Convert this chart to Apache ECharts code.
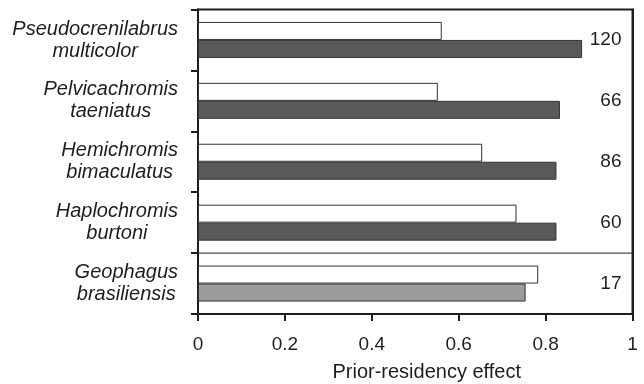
<!DOCTYPE html>
<html>
<head>
<meta charset="utf-8">
<script src="https://cdn.jsdelivr.net/npm/echarts@6/dist/echarts.min.js"></script>
<style>html,body{margin:0;padding:0;background:#fff;}#chart{width:644px;height:384px;}</style>
</head>
<body>
<div id="chart"></div>
<script>
// Data (top-to-bottom order)
const species = [
  'Pseudocrenilabrus multicolor',
  'Pelvicachromis taeniatus',
  'Hemichromis bimaculatus',
  'Haplochromis burtoni',
  'Geophagus brasiliensis'
];
const openBarValues = [0.561, 0.552, 0.654, 0.733, 0.783];
const filledBarValues = [0.884, 0.833, 0.825, 0.825, 0.754];
const sampleSizes = ['120', '66', '86', '60', '17'];
const xTicks = [0, 0.2, 0.4, 0.6, 0.8, 1];
const xAxisTitle = 'Prior-residency effect';
const separatedSpecies = 'Geophagus brasiliensis';

const FONT = '"Liberation Sans", Arial, Helvetica, sans-serif';
const INK = '#1e1e1e';
const sepIndex = species.indexOf(separatedSpecies);
const xMin = xTicks[0], xMax = xTicks[xTicks.length - 1];

const filledData = filledBarValues.map((v, i) =>
  i === sepIndex ? { value: v, itemStyle: { color: '#9b9c9e' } } : v
);

const chart = echarts.init(document.getElementById('chart'), null, { renderer: 'canvas' });
chart.setOption({
  animation: false,
  backgroundColor: '#fff',
  grid: {
    left: 198, right: 11.5, top: 9.5, bottom: 70,
    containLabel: false,
    outerBoundsMode: 'none',
    show: true, borderColor: INK, borderWidth: 2, backgroundColor: 'transparent'
  },
  xAxis: {
    type: 'value',
    min: xMin, max: xMax, interval: 0.2,
    axisLine: { show: true, onZero: false, lineStyle: { color: INK, width: 2 } },
    axisTick: { show: true, length: 7, lineStyle: { color: INK, width: 2 } },
    splitLine: { show: false },
    axisLabel: { color: INK, fontSize: 19, fontFamily: FONT, margin: 21 },
    name: xAxisTitle,
    nameLocation: 'middle',
    nameGap: 48,
    nameTextStyle: { color: INK, fontSize: 20, fontFamily: FONT, padding: [0, 0, 0, 23] }
  },
  yAxis: [
    {
      type: 'category',
      data: species,
      inverse: true,
      axisLine: { show: true, onZero: false, lineStyle: { color: INK, width: 2 } },
      axisTick: { show: true, length: 7, lineStyle: { color: INK, width: 2 } },
      splitLine: { show: false },
      axisLabel: {
        margin: 20,
        formatter: function (v) {
          const parts = v.split(' ');
          return '{a|' + parts[0] + '}\n{a|' + parts[1] + '}';
        },
        rich: {
          a: { align: 'center', fontStyle: 'italic', fontSize: 20, lineHeight: 22, color: INK, fontFamily: FONT }
        }
      }
    },
    {
      type: 'category',
      data: sampleSizes,
      inverse: true,
      position: 'right',
      axisLine: { show: true, onZero: false, lineStyle: { color: INK, width: 2 } },
      axisTick: { show: false },
      splitLine: { show: false },
      axisLabel: { inside: true, margin: 11, color: INK, fontSize: 19, fontFamily: FONT, padding: [0, 0, 5, 0] }
    },
    {
      // hidden continuous band-index axis, used to place the group separator
      type: 'value',
      min: 0, max: species.length,
      inverse: true,
      show: false
    }
  ],
  series: [
    {
      name: 'open',
      type: 'bar',
      yAxisIndex: 0,
      data: openBarValues,
      barWidth: 18,
      barGap: '0%',
      itemStyle: { color: '#ffffff', borderColor: '#333', borderWidth: 1 }
    },
    {
      name: 'filled',
      type: 'bar',
      yAxisIndex: 0,
      data: filledData,
      barWidth: 18,
      barGap: '0%',
      itemStyle: { color: '#58595b', borderColor: '#333', borderWidth: 1 }
    },
    {
      name: 'separator',
      type: 'line',
      yAxisIndex: 2,
      silent: true,
      symbol: 'none',
      data: [[xMin, sepIndex], [xMax, sepIndex]],
      lineStyle: { color: INK, width: 1 }
    }
  ]
});
</script>
</body>
</html>
